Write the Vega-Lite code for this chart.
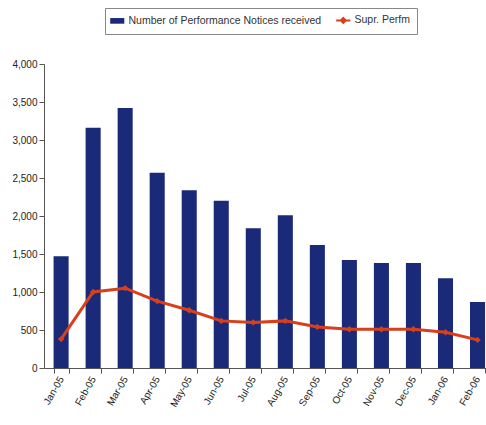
{
  "$schema": "https://vega.github.io/schema/vega-lite/v6.json",
  "width": 443,
  "height": 304,
  "padding": {"left": 11, "top": 7, "right": 0, "bottom": 4},
  "background": "white",
  "config": {
    "view": {"stroke": null},
    "font": "Liberation Sans",
    "axis": {"labelFont": "Liberation Sans", "labelFontSize": 10, "labelColor": "#222", "domainColor": "#555", "tickColor": "#555", "grid": false, "title": null}
  },
  "data": {
    "values": [
      {"month": "Jan-05", "notices": 1470, "supr": 380},
      {"month": "Feb-05", "notices": 3160, "supr": 1000},
      {"month": "Mar-05", "notices": 3420, "supr": 1050},
      {"month": "Apr-05", "notices": 2570, "supr": 880},
      {"month": "May-05", "notices": 2340, "supr": 760},
      {"month": "Jun-05", "notices": 2200, "supr": 620},
      {"month": "Jul-05", "notices": 1840, "supr": 600},
      {"month": "Aug-05", "notices": 2010, "supr": 620},
      {"month": "Sep-05", "notices": 1620, "supr": 540},
      {"month": "Oct-05", "notices": 1420, "supr": 510},
      {"month": "Nov-05", "notices": 1380, "supr": 510},
      {"month": "Dec-05", "notices": 1380, "supr": 510},
      {"month": "Jan-06", "notices": 1180, "supr": 470},
      {"month": "Feb-06", "notices": 870, "supr": 370}
    ]
  },
  "encoding": {
    "x": {
      "field": "month", "type": "ordinal", "sort": null,
      "scale": {"paddingInner": 0.53, "paddingOuter": 0.18, "align": 0.83},
      "axis": {"labelAngle": -60, "tickBand": "extent", "labelPadding": 4}
    }
  },
  "layer": [
    {
      "mark": {"type": "bar", "color": "#1b2a78"},
      "encoding": {
        "y": {"field": "notices", "type": "quantitative", "scale": {"domain": [0, 4000]},
              "axis": {"format": ",.0f", "values": [0,500,1000,1500,2000,2500,3000,3500,4000]}},
        "color": {
          "datum": "Number of Performance Notices received",
          "type": "nominal",
          "scale": {"domain": ["Number of Performance Notices received", "Supr. Perfm"], "range": ["#1b2a78", "#d8401c"]},
          "legend": {
            "orient": "none", "legendX": 61, "legendY": -56, "direction": "horizontal", "title": null,
            "labelFontSize": 10.5, "labelLimit": 300, "labelColor": "#333", "strokeColor": "#888", "padding": 7,
            "symbolSize": 200, "labelOffset": 6, "columnPadding": 10,
            "encode": {
              "symbols": {
                "update": {
                  "shape": {"signal": "datum.value === 'Supr. Perfm' ? 'M-1,0H1M0,-0.35L0.35,0L0,0.35L-0.35,0Z' : 'M-1,-0.4H1V0.4H-1Z'"},
                  "strokeWidth": {"signal": "datum.value === 'Supr. Perfm' ? 2 : 0"},
                  "stroke": {"signal": "datum.value === 'Supr. Perfm' ? '#d8401c' : '#1b2a78'"},
                  "fill": {"signal": "datum.value === 'Supr. Perfm' ? '#d8401c' : '#1b2a78'"}
                }
              }
            }
          }
        }
      }
    },
    {
      "mark": {"type": "line", "color": "#d8401c", "strokeWidth": 3, "point": {"shape": "diamond", "size": 40, "filled": true, "color": "#c83010"}},
      "encoding": {
        "y": {"field": "supr", "type": "quantitative",
              "axis": {"format": ",.0f", "values": [0,500,1000,1500,2000,2500,3000,3500,4000]}},
        "color": {"datum": "Supr. Perfm", "type": "nominal"}
      }
    }
  ]
}
